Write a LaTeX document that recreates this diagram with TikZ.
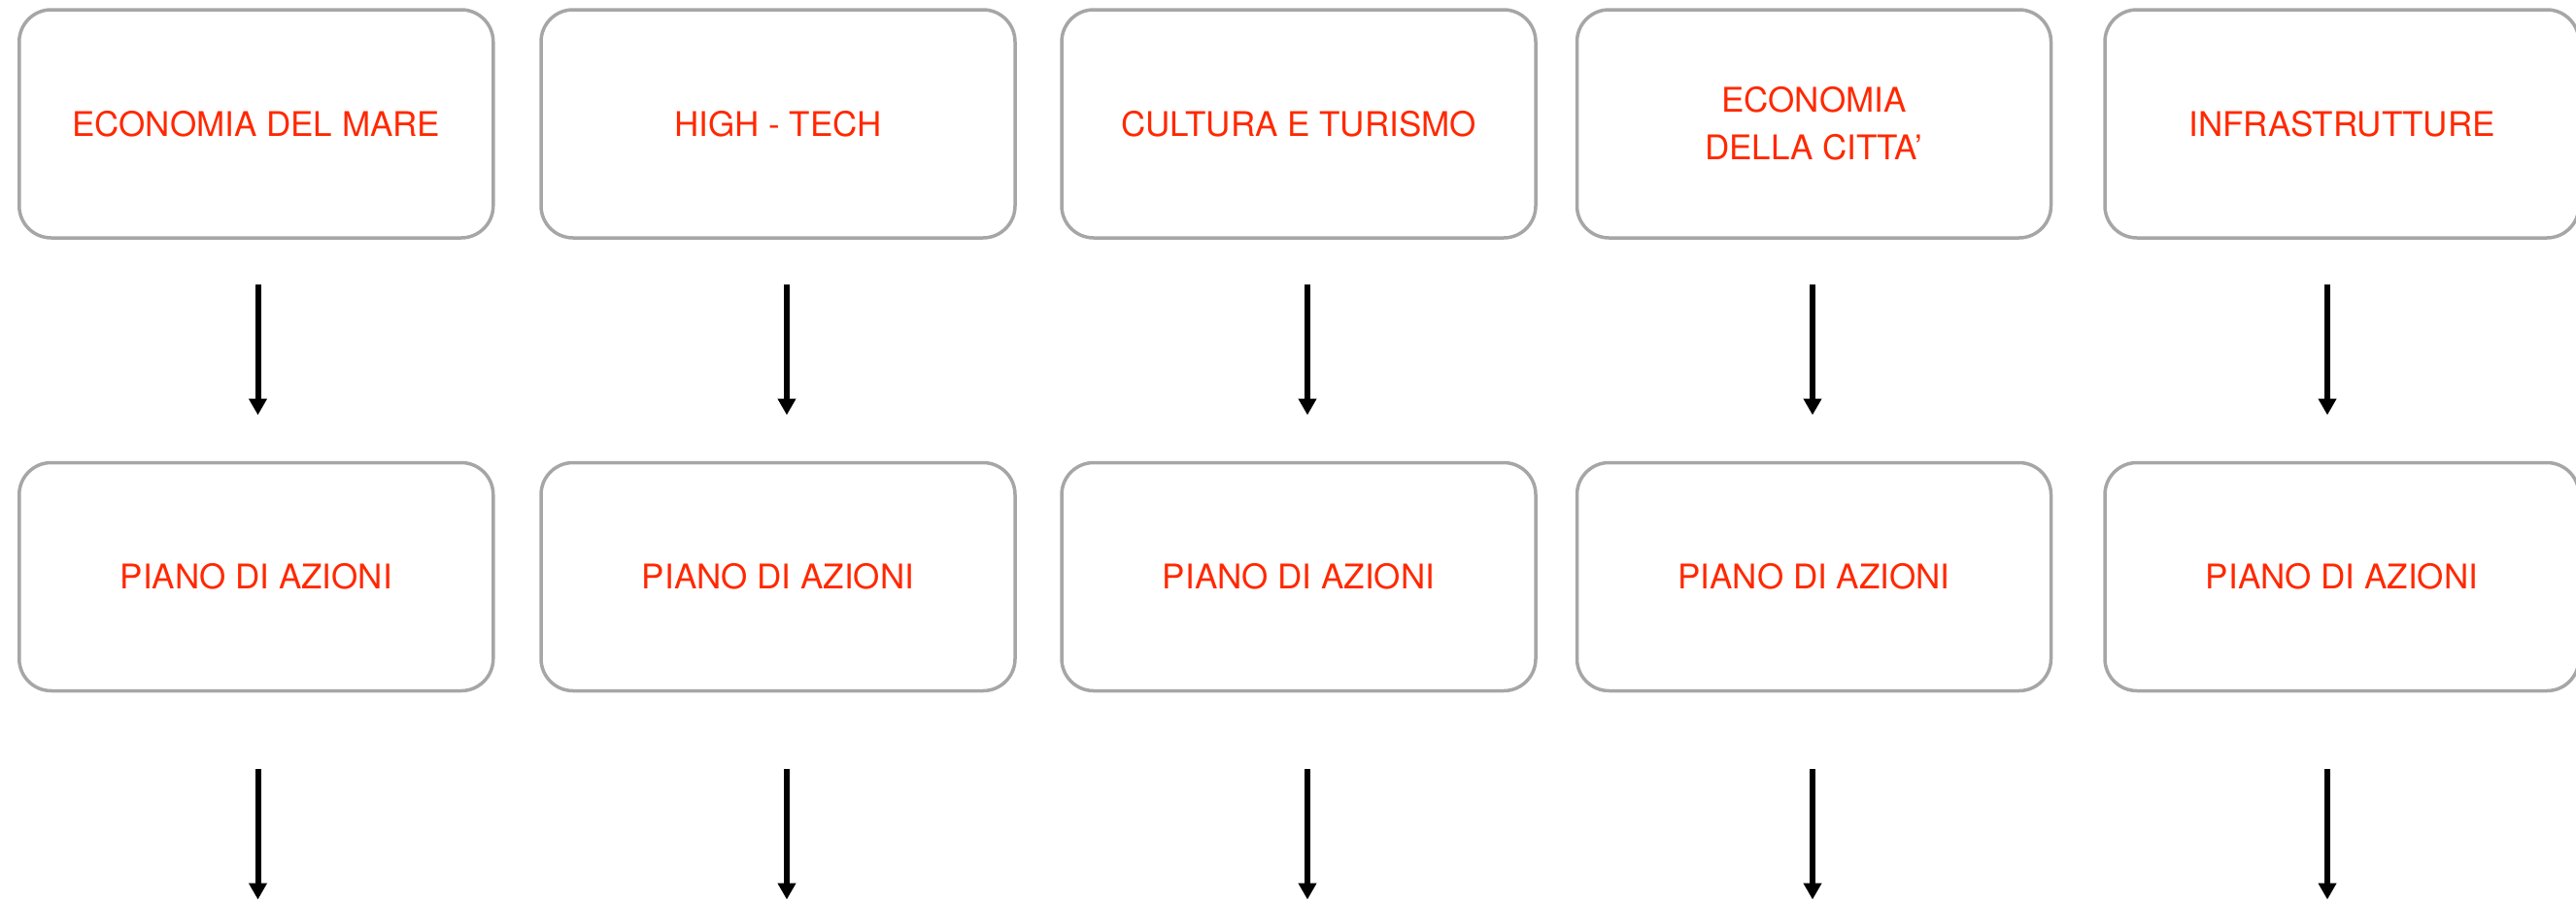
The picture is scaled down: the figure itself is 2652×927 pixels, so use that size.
\documentclass[tikz,border=0pt]{standalone}
\usepackage{fontspec}
\setmainfont{TeX Gyre Heros}
\usetikzlibrary{arrows.meta}
\definecolor{boxgray}{HTML}{A6A6A6}
\definecolor{txtred}{RGB}{255,40,0}
\begin{document}
\begin{tikzpicture}[x=0.5pt,y=-0.5pt,
  box/.style={draw=boxgray, line width=1.75pt, rounded corners=16.5pt,
    minimum width=244pt, minimum height=117.5pt, inner sep=0pt,
    text=txtred, align=center, font=\fontsize{17.5}{24.3}\selectfont},
  flow/.style={line width=3pt, -{Triangle[length=8.5pt,width=9pt]}}]
\useasboundingbox (0,0) rectangle (2652,927);
% top row
\node[box] (b1) at (263.75,127.5) {ECONOMIA DEL MARE};
\node[box] (b2) at (801,127.5) {HIGH - TECH};
\node[box] (b3) at (1337,127.5) {CULTURA E TURISMO};
\node[box] (b4) at (1867.5,127.5) {ECONOMIA\\DELLA CITTA’};
\node[box] (b5) at (2411,127.5) {INFRASTRUTTURE};
% second row
\node[box] (p1) at (263.75,594) {PIANO DI AZIONI};
\node[box] (p2) at (801,594) {PIANO DI AZIONI};
\node[box] (p3) at (1337,594) {PIANO DI AZIONI};
\node[box] (p4) at (1867.5,594) {PIANO DI AZIONI};
\node[box] (p5) at (2411,594) {PIANO DI AZIONI};
% arrow end points
\foreach \i/\x in {1/265.5,2/810,3/1346,4/1866,5/2396}{
  \coordinate (s\i) at (\x,293);
  \coordinate (e\i) at (\x,427.5);
  \coordinate (t\i) at (\x,792);
  \coordinate (u\i) at (\x,926.5);
}
\foreach \i in {1,...,5}{
  \draw[flow] (s\i) -- (e\i);
  \draw[flow] (t\i) -- (u\i);
}
\end{tikzpicture}
\end{document}
